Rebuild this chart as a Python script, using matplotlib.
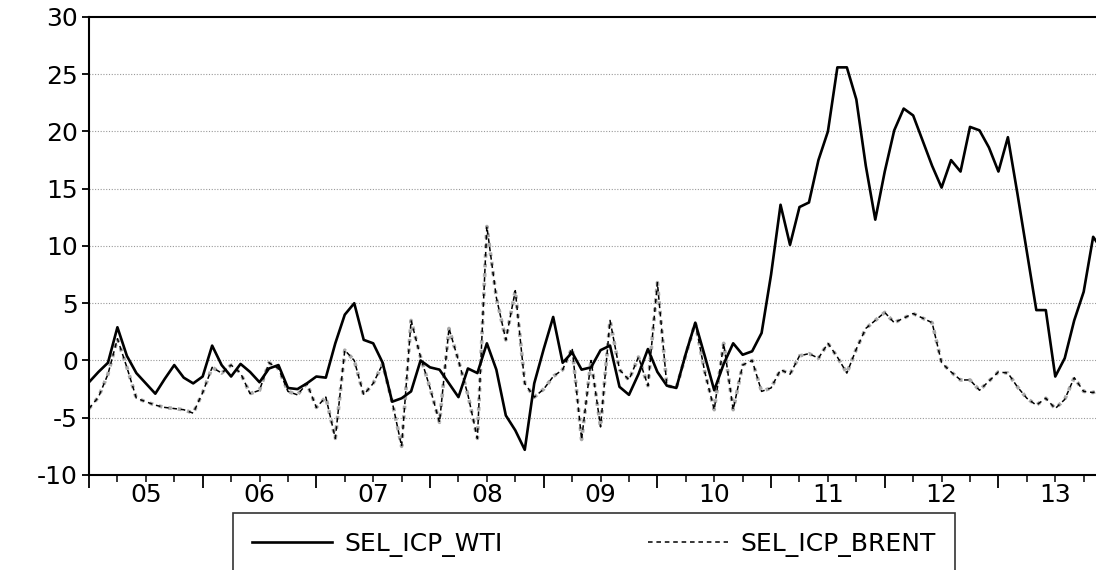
import matplotlib
matplotlib.use("Agg")
import matplotlib.pyplot as plt
import numpy as np

plt.rcParams['font.family'] = ['DejaVu Sans']
plt.rcParams['axes.unicode_minus'] = False

# monthly observations, Jan 2005 onwards
start_year = 2005
wti = [-1.9, -1.0, -0.2, 2.9, 0.4, -1.1, -2.0, -2.9, -1.6, -0.4,
       -1.5, -2.0, -1.4, 1.3, -0.4, -1.4, -0.3, -1.0, -1.9, -0.7,
       -0.4, -2.4, -2.5, -2.0, -1.4, -1.5, 1.5, 4.0, 5.0, 1.8,
       1.5, -0.2, -3.6, -3.3, -2.7, 0.0, -0.6, -0.8, -2.0, -3.2,
       -0.7, -1.1, 1.5, -0.8, -4.8, -6.1, -7.8, -2.0, 1.0, 3.8,
       -0.2, 0.7, -0.8, -0.6, 0.9, 1.3, -2.3, -3.0, -1.2, 1.0,
       -1.0, -2.2, -2.4, 0.6, 3.3, 0.4, -2.6, -0.3, 1.5, 0.5,
       0.8, 2.4, 7.5, 13.6, 10.1, 13.4, 13.8, 17.5, 20.0, 25.6,
       25.6, 22.8, 17.0, 12.3, 16.5, 20.1, 22.0, 21.4, 19.2, 17.0,
       15.1, 17.5, 16.5, 20.4, 20.1, 18.6, 16.5, 19.5, 14.6, 9.5,
       4.4, 4.4, -1.4, 0.2, 3.5, 6.0, 10.8, 9.6]
brent = [-4.2, -3.2, -1.2, 1.9, -0.6, -3.3, -3.6, -3.9, -4.1, -4.2,
         -4.3, -4.6, -2.8, -0.6, -1.1, -0.4, -1.1, -2.9, -2.6, -0.2,
         -0.7, -2.7, -3.0, -2.0, -4.1, -3.2, -6.8, 0.9, 0.0, -3.0,
         -2.0, -0.3, -3.6, -7.5, 3.5, 0.3, -2.4, -5.4, 2.8, 0.0,
         -3.0, -6.8, 11.7, 5.5, 1.8, 6.1, -2.0, -3.2, -2.5, -1.4,
         -0.8, 1.1, -6.9, 0.0, -5.8, 3.5, -0.8, -1.7, 0.3, -2.2,
         6.8, -2.2, -2.4, 0.5, 3.3, -1.0, -4.3, 1.5, -4.3, -0.4,
         0.0, -2.7, -2.4, -0.8, -1.2, 0.4, 0.6, 0.2, 1.5, 0.3,
         -1.1, 1.0, 2.8, 3.5, 4.2, 3.3, 3.7, 4.1, 3.7, 3.3,
         -0.2, -1.0, -1.7, -1.7, -2.6, -1.8, -1.0, -1.1, -2.3, -3.3,
         -3.9, -3.3, -4.2, -3.4, -1.5, -2.7, -2.8, -2.4]
year_labels = ['05', '06', '07', '08', '09', '10', '11', '12', '13']

t = start_year + np.arange(len(wti)) / 12.0

fig = plt.figure(figsize=(10.96, 5.70), dpi=100)
ax = fig.add_axes([0.0812, 0.1667, 0.9188, 0.8035])

ax.plot(t, wti, color='black', lw=1.9, label='SEL_ICP_WTI', zorder=3)
# scanned dashed line looks grey underneath the black dashes
ax.plot(t, brent, color='#a8a8a8', lw=2.6, ls=':', zorder=2)
ax.plot(t, brent, color='black', lw=1.1, ls=(0, (3, 2.5)), label='SEL_ICP_BRENT', zorder=2)

ax.set_ylim(-10, 30)
ax.set_xlim(2005, 2005 + 106.3 / 12)
ax.set_yticks(np.arange(-10, 31, 5))
for v in range(-5, 30, 5):
    ax.axhline(v, color='#999999', lw=0.8, ls=(0, (1, 1.5)), zorder=1)

years = np.arange(2005, 2014)
ax.set_xticks(years)
ax.set_xticklabels([''] * len(years))
quarters = [y + q for y in years for q in (0.25, 0.5, 0.75)]
qlabels = []
for y in years:
    qlabels += ['', year_labels[y - 2005], '']
ax.set_xticks(quarters, minor=True)
ax.set_xticklabels(qlabels, minor=True)

ax.tick_params(axis='x', which='major', length=9, width=1.3, direction='out')
ax.tick_params(axis='x', which='minor', length=5, width=1.1, direction='out',
               labelsize=18, pad=1)
ax.tick_params(axis='y', which='major', length=5, width=1.3, direction='out',
               labelsize=18, pad=3)

ax.spines['right'].set_visible(False)
for s in ('left', 'bottom', 'top'):
    ax.spines[s].set_linewidth(1.5)

leg = fig.legend(loc='upper center', bbox_to_anchor=(0.542, 0.1), ncol=2,
                 fontsize=18, frameon=True, fancybox=False, handlelength=3.2,
                 columnspacing=5.8, borderpad=0.75, handletextpad=0.5,
                 borderaxespad=0)
leg.get_frame().set_edgecolor('black')
leg.get_frame().set_linewidth(1.2)

fig.savefig('out.png', dpi=100)
